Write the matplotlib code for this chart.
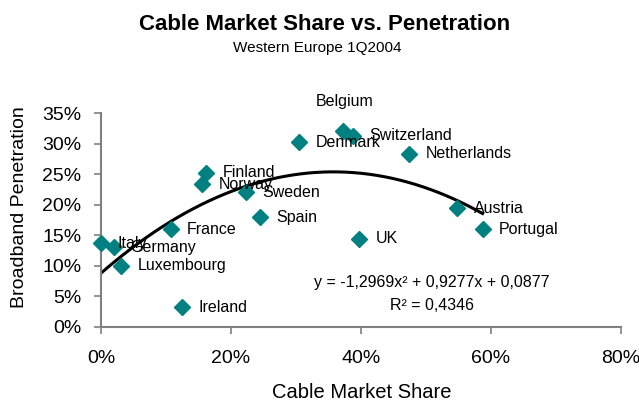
import numpy as np
import matplotlib.pyplot as plt

plt.rcParams['font.family'] = ['Liberation Sans', 'DejaVu Sans']

countries = ['Italy', 'Germany', 'Luxembourg', 'France', 'Ireland', 'Spain',
             'Finland', 'Norway', 'Sweden', 'Denmark', 'Belgium', 'Switzerland',
             'Netherlands', 'UK', 'Austria', 'Portugal']
cable_share = [0.000, 0.020, 0.031, 0.107, 0.124, 0.244,
               0.161, 0.156, 0.223, 0.305, 0.373, 0.387,
               0.474, 0.397, 0.548, 0.587]
penetration = [0.137, 0.130, 0.100, 0.160, 0.032, 0.179,
               0.252, 0.233, 0.220, 0.302, 0.320, 0.313,
               0.283, 0.144, 0.194, 0.160]
coef = [-1.2969, 0.9277, 0.0877]
x_ticks = [0, 0.2, 0.4, 0.6, 0.8]
y_ticks = [0, 0.05, 0.10, 0.15, 0.20, 0.25, 0.30, 0.35]

# label offsets in points (most labels sit to the right of the marker)
offsets = {name: (12, 0) for name in countries}
offsets['Belgium'] = (-20, 21.5)

W, H = 639, 401
fig = plt.figure(figsize=(W / 100, H / 100), dpi=100)
ax = fig.add_axes([101 / W, 1 - 326.7 / H, 520 / W, 213.7 / H])

xs = np.linspace(0, max(cable_share), 200)
ax.plot(xs, np.polyval(coef, xs), color='black', lw=2.2, zorder=2)
ax.plot(cable_share, penetration, 'D', color='#008080', ms=8.5, mec='#008080',
        clip_on=False, zorder=3)

for name, x, y in zip(countries, cable_share, penetration):
    ax.annotate(name, (x, y), xytext=offsets[name], textcoords='offset points',
                ha='left', va='center', fontsize=11.5, zorder=4)

fig.text(432 / W, 1 - 282 / H, 'y = -1,2969x² + 0,9277x + 0,0877', fontsize=11.5,
         ha='center', va='center')
fig.text(432 / W, 1 - 306 / H, 'R² = 0,4346', fontsize=11.5,
         ha='center', va='center')

ax.set_xlim(0, 0.8)
ax.set_ylim(0, 0.35)
ax.set_xticks(x_ticks)
ax.set_yticks(y_ticks)
ax.set_xticklabels([f'{round(v * 100)}%' for v in x_ticks])
ax.set_yticklabels([f'{round(v * 100)}%' for v in y_ticks])
ax.tick_params(labelsize=14, direction='out', length=5, width=1.2, color='#808080')
ax.tick_params(axis='x', pad=12)
ax.tick_params(axis='y', pad=9)
for side in ['top', 'right']:
    ax.spines[side].set_visible(False)
for side in ['left', 'bottom']:
    ax.spines[side].set_color('#808080')
    ax.spines[side].set_linewidth(1.5)

fig.text(362 / W, 1 - 392 / H, 'Cable Market Share', fontsize=14.5,
         ha='center', va='center')
fig.text(20 / W, 1 - 207 / H, 'Broadband Penetration', fontsize=14,
         ha='center', va='center', rotation=90)

fig.text(325 / W, 1 - 24 / H, 'Cable Market Share vs. Penetration', fontsize=16,
         fontweight='bold', ha='center', va='center')
fig.text(317 / W, 1 - 48 / H, 'Western Europe 1Q2004', fontsize=11,
         ha='center', va='center')

fig.savefig('out.png', dpi=100)
